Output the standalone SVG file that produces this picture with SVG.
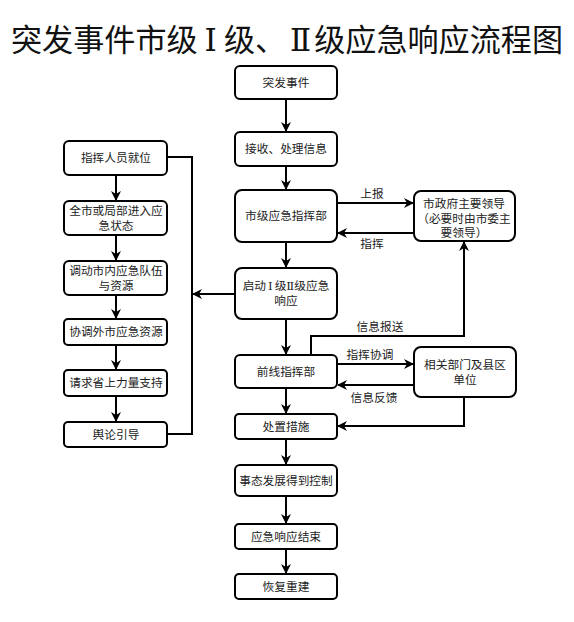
<svg xmlns="http://www.w3.org/2000/svg" width="574" height="622" viewBox="0 0 574 622">
<defs>
<marker id="ah" viewBox="0 0 10 10" refX="9" refY="5" markerWidth="10" markerHeight="10" markerUnits="userSpaceOnUse" orient="auto">
<path d="M0,0 L10,5 L0,10 L3,5 Z" fill="#000"/>
</marker>
<style>
.b{fill:#fff;stroke:#000;stroke-width:2}
.t{font-family:"Noto Sans CJK SC","Noto Sans",sans-serif;font-size:11.7px;fill:#222;text-anchor:middle}
.c{fill:none;stroke:#000;stroke-width:2}
.a{marker-end:url(#ah)}
.title{font-family:"Noto Sans CJK SC","Noto Sans",sans-serif;font-size:31px;fill:#111}
.r{font-family:"DejaVu Serif","Liberation Serif",serif}
</style>
</defs>
<rect width="574" height="622" fill="#fff"/>
<text class="title" x="287" y="51" text-anchor="middle" textLength="552" lengthAdjust="spacingAndGlyphs">突发事件市级<tspan class="r" dx="7">Ⅰ</tspan><tspan dx="7">级、</tspan><tspan class="r" dx="4">Ⅱ</tspan><tspan dx="3">级应急响应流程图</tspan></text>

<g id="connectors">
<path class="c a" d="M286,99 V131"/>
<path class="c a" d="M286,166 V189"/>
<path class="c a" d="M286,242 V267"/>
<path class="c a" d="M286,319 V354"/>
<path class="c a" d="M286,388 V413"/>
<path class="c a" d="M286,439 V464"/>
<path class="c a" d="M286,496 V523"/>
<path class="c a" d="M286,549 V573"/>
<path class="c a" d="M337,203 H413"/>
<path class="c a" d="M414,233 H338"/>
<path class="c a" d="M311,355 V336 H464 V242"/>
<path class="c a" d="M337,364 H413"/>
<path class="c a" d="M414,385 H338"/>
<path class="c a" d="M464,397 V426 H338"/>
<path class="c a" d="M235,294 H193"/>
<path class="c" d="M167,157 H192 V434 H167"/>
<path class="c a" d="M116,175 V200"/>
<path class="c a" d="M116,235 V260"/>
<path class="c a" d="M116,295 V318"/>
<path class="c a" d="M116,345 V369"/>
<path class="c a" d="M116,396 V421"/>
<text class="t" x="372" y="198">上报</text>
<text class="t" x="372" y="248">指挥</text>
<text class="t" x="380" y="331">信息报送</text>
<text class="t" x="370" y="359">指挥协调</text>
<text class="t" x="374" y="402">信息反馈</text>
</g>

<g id="n1"><rect class="b" x="235" y="66" width="102" height="33" rx="5"/><text class="t" x="286" y="87">突发事件</text></g>
<g id="n2"><rect class="b" x="235" y="132" width="102" height="34" rx="5"/><text class="t" x="286" y="153">接收、处理信息</text></g>
<g id="n3"><rect class="b" x="235" y="190" width="102" height="52" rx="7"/><text class="t" x="286" y="220">市级应急指挥部</text></g>
<g id="n4"><rect class="b" x="414" y="191" width="101" height="50" rx="7"/><text class="t" x="464" y="208">市政府主要领导</text><text class="t" x="464" y="222.5">（必要时由市委主</text><text class="t" x="464" y="237">要领导）</text></g>
<g id="n5"><rect class="b" x="235" y="268" width="102" height="51" rx="7"/><text class="t" x="286" y="290">启动<tspan class="r" dx="2">Ⅰ</tspan><tspan dx="2">级</tspan><tspan class="r">Ⅱ</tspan>级应急</text><text class="t" x="286" y="305">响应</text></g>
<g id="n6"><rect class="b" x="235" y="355" width="102" height="33" rx="5"/><text class="t" x="286" y="376">前线指挥部</text></g>
<g id="n7"><rect class="b" x="414" y="347" width="102" height="50" rx="7"/><text class="t" x="465" y="369">相关部门及县区</text><text class="t" x="465" y="384">单位</text></g>
<g id="n8"><rect class="b" x="235" y="414" width="102" height="25" rx="4"/><text class="t" x="286" y="431">处置措施</text></g>
<g id="n9"><rect class="b" x="235" y="465" width="102" height="31" rx="5"/><text class="t" x="286" y="485">事态发展得到控制</text></g>
<g id="n10"><rect class="b" x="235" y="524" width="102" height="25" rx="4"/><text class="t" x="286" y="541">应急响应结束</text></g>
<g id="n11"><rect class="b" x="235" y="574" width="102" height="25" rx="4"/><text class="t" x="286" y="591">恢复重建</text></g>

<g id="l1"><rect class="b" x="64" y="141" width="103" height="34" rx="5"/><text class="t" x="116" y="162">指挥人员就位</text></g>
<g id="l2"><rect class="b" x="64" y="201" width="103" height="34" rx="5"/><text class="t" x="116" y="215">全市或局部进入应</text><text class="t" x="116" y="230">急状态</text></g>
<g id="l3"><rect class="b" x="64" y="261" width="103" height="34" rx="5"/><text class="t" x="116" y="275">调动市内应急队伍</text><text class="t" x="116" y="290">与资源</text></g>
<g id="l4"><rect class="b" x="64" y="319" width="103" height="26" rx="4"/><text class="t" x="116" y="336">协调外市应急资源</text></g>
<g id="l5"><rect class="b" x="64" y="370" width="103" height="26" rx="4"/><text class="t" x="116" y="387">请求省上力量支持</text></g>
<g id="l6"><rect class="b" x="64" y="422" width="103" height="25" rx="4"/><text class="t" x="116" y="439">舆论引导</text></g>
</svg>
